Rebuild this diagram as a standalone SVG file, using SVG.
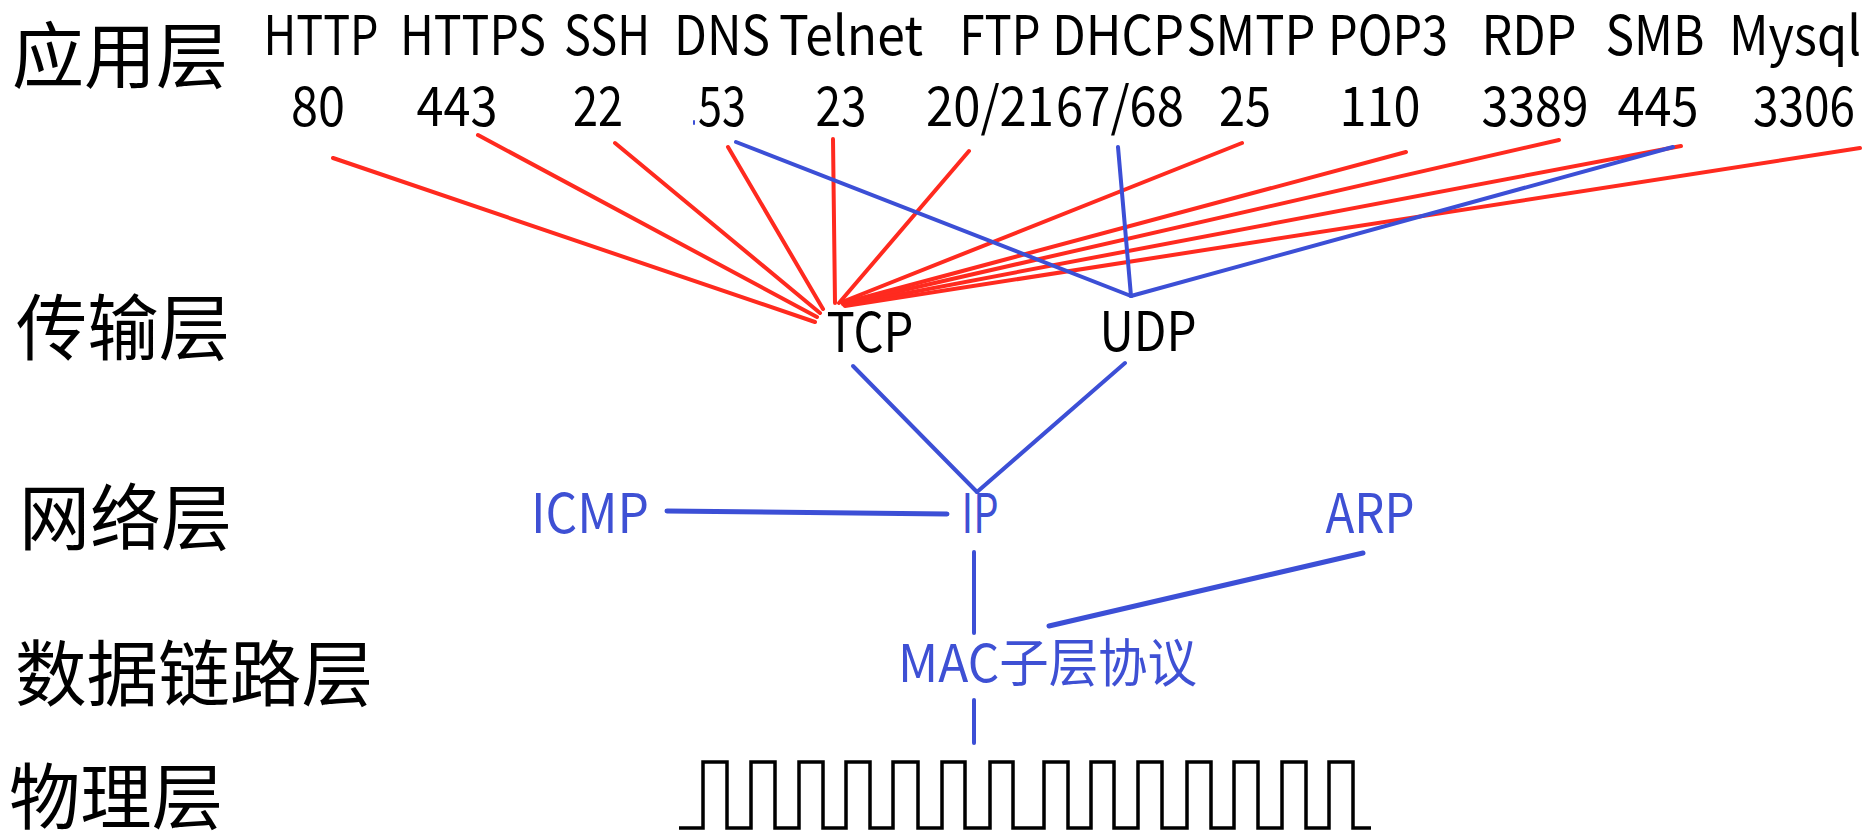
<svg xmlns="http://www.w3.org/2000/svg" width="1866" height="840" viewBox="0 0 1866 840">
  <style>
    .layer { font-family: "Noto Sans CJK SC", "Noto Sans", sans-serif; font-size: 72px; fill: #000; }
    .proto { font-family: "Noto Sans CJK SC", "Noto Sans", sans-serif; font-size: 54px; fill: #000; text-anchor: middle; }
    .blue { fill: #3e50d4; }
    .red { stroke: #ff2a1f; stroke-width: 4; stroke-linecap: round; fill: none; }
    .bl { stroke: #3c4fd6; stroke-width: 4; stroke-linecap: round; fill: none; }
    .wave { stroke: #000; stroke-width: 3.5; fill: none; }
  </style>
  <rect width="1866" height="840" fill="#fff"/>

  <g id="layers">
    <text class="layer" x="12" y="82" textLength="216" lengthAdjust="spacingAndGlyphs">应用层</text>
    <text class="layer" x="16" y="354" textLength="214" lengthAdjust="spacingAndGlyphs">传输层</text>
    <text class="layer" x="19" y="544" textLength="213" lengthAdjust="spacingAndGlyphs">网络层</text>
    <text class="layer" x="15" y="700" textLength="358" lengthAdjust="spacingAndGlyphs">数据链路层</text>
    <text class="layer" x="9" y="823" textLength="214" lengthAdjust="spacingAndGlyphs">物理层</text>
  </g>

  <g id="app-protocols">
    <g id="http"><text class="proto" x="321" y="55" textLength="115" lengthAdjust="spacingAndGlyphs">HTTP</text><text class="proto" x="318" y="126" textLength="54" lengthAdjust="spacingAndGlyphs">80</text></g>
    <g id="https"><text class="proto" x="473" y="55" textLength="146" lengthAdjust="spacingAndGlyphs">HTTPS</text><text class="proto" x="457" y="126" textLength="81" lengthAdjust="spacingAndGlyphs">443</text></g>
    <g id="ssh"><text class="proto" x="607" y="55" textLength="86" lengthAdjust="spacingAndGlyphs">SSH</text><text class="proto" x="598" y="126" textLength="50" lengthAdjust="spacingAndGlyphs">22</text></g>
    <g id="dns"><text class="proto" x="722" y="55" textLength="96" lengthAdjust="spacingAndGlyphs">DNS</text><text class="proto" x="722" y="126" textLength="48" lengthAdjust="spacingAndGlyphs">53</text></g>
    <g id="telnet"><text class="proto" x="851" y="55" textLength="144" lengthAdjust="spacingAndGlyphs">Telnet</text><text class="proto" x="841" y="126" textLength="51" lengthAdjust="spacingAndGlyphs">23</text></g>
    <g id="ftp"><text class="proto" x="1000" y="55" textLength="81" lengthAdjust="spacingAndGlyphs">FTP</text><text class="proto" x="926" y="126" style="text-anchor:start" textLength="128" lengthAdjust="spacingAndGlyphs">20/21</text></g>
    <g id="dhcp"><text class="proto" x="1118" y="55" textLength="132" lengthAdjust="spacingAndGlyphs">DHCP</text><text class="proto" x="1184" y="126" style="text-anchor:end" textLength="128" lengthAdjust="spacingAndGlyphs">67/68</text></g>
    <g id="smtp"><text class="proto" x="1251" y="55" textLength="129" lengthAdjust="spacingAndGlyphs">SMTP</text><text class="proto" x="1245" y="126" textLength="52" lengthAdjust="spacingAndGlyphs">25</text></g>
    <g id="pop3"><text class="proto" x="1388" y="55" textLength="120" lengthAdjust="spacingAndGlyphs">POP3</text><text class="proto" x="1380" y="126" textLength="81" lengthAdjust="spacingAndGlyphs">110</text></g>
    <g id="rdp"><text class="proto" x="1529" y="55" textLength="95" lengthAdjust="spacingAndGlyphs">RDP</text><text class="proto" x="1535" y="126" textLength="107" lengthAdjust="spacingAndGlyphs">3389</text></g>
    <g id="smb"><text class="proto" x="1655" y="55" textLength="99" lengthAdjust="spacingAndGlyphs">SMB</text><text class="proto" x="1658" y="126" textLength="81" lengthAdjust="spacingAndGlyphs">445</text></g>
    <g id="mysql"><text class="proto" x="1795" y="55" textLength="132" lengthAdjust="spacingAndGlyphs">Mysql</text><text class="proto" x="1804" y="126" textLength="102" lengthAdjust="spacingAndGlyphs">3306</text></g>
  </g>

  <g id="tcp"><text class="proto" x="870" y="352" textLength="87" lengthAdjust="spacingAndGlyphs">TCP</text></g>
  <g id="udp"><text class="proto" x="1148" y="351" textLength="97" lengthAdjust="spacingAndGlyphs">UDP</text></g>
  <g id="icmp"><text class="proto blue" x="590" y="533" textLength="118" lengthAdjust="spacingAndGlyphs">ICMP</text></g>
  <g id="ip"><text class="proto blue" x="980" y="533" textLength="37" lengthAdjust="spacingAndGlyphs">IP</text></g>
  <g id="arp"><text class="proto blue" x="1370" y="533" textLength="89" lengthAdjust="spacingAndGlyphs">ARP</text></g>
  <g id="mac"><text class="proto blue" x="898" y="682" style="text-anchor:start;font-size:52px" textLength="299" lengthAdjust="spacingAndGlyphs">MAC子层协议</text></g>
  <g id="physical">
    <path class="wave" d="M679,828 H703 V762 H727 V828 H751 V762 H775 V828 H799 V762 H823 V828 H846 V762 H870 V828 H893 V762 H918 V828 H942 V762 H965 V828 H990 V762 H1013 V828 H1044 V762 H1068 V828 H1091 V762 H1114 V828 H1138 V762 H1162 V828 H1187 V762 H1211 V828 H1234 V762 H1258 V828 H1282 V762 H1306 V828 H1329 V762 H1353 V828 H1371"/>
  </g>

  <g id="connectors">
    <line class="red" x1="333" y1="158" x2="815" y2="322"/>
    <line class="red" x1="478" y1="135" x2="817" y2="317"/>
    <line class="red" x1="615" y1="143" x2="820" y2="313"/>
    <line class="red" x1="728" y1="147" x2="823" y2="309"/>
    <line class="red" x1="833" y1="139" x2="835" y2="303"/>
    <line class="red" x1="969" y1="151" x2="839" y2="303"/>
    <line class="red" x1="1242" y1="143" x2="842" y2="302"/>
    <line class="red" x1="1406" y1="152" x2="843" y2="303"/>
    <line class="red" x1="1559" y1="140" x2="843" y2="304"/>
    <line class="red" x1="1681" y1="146" x2="844" y2="305"/>
    <line class="red" x1="1860" y1="148" x2="845" y2="306"/>

    <line class="bl" x1="736" y1="142" x2="1131" y2="296"/>
    <line class="bl" x1="1118" y1="147" x2="1131" y2="296"/>
    <line class="bl" x1="1673" y1="147" x2="1131" y2="296"/>
    <line class="bl" x1="853" y1="366" x2="977" y2="492"/>
    <line class="bl" x1="1125" y1="363" x2="977" y2="492"/>
    <line class="bl" x1="667" y1="511" x2="947" y2="514" style="stroke-width:5"/>
    <line class="bl" x1="974" y1="552" x2="974" y2="633"/>
    <line class="bl" x1="1363" y1="553" x2="1049" y2="626" style="stroke-width:5"/>
    <line class="bl" x1="974" y1="700" x2="974" y2="743"/>
    <line class="bl" x1="694" y1="121" x2="694" y2="124" style="stroke-width:2"/>
  </g>
</svg>
